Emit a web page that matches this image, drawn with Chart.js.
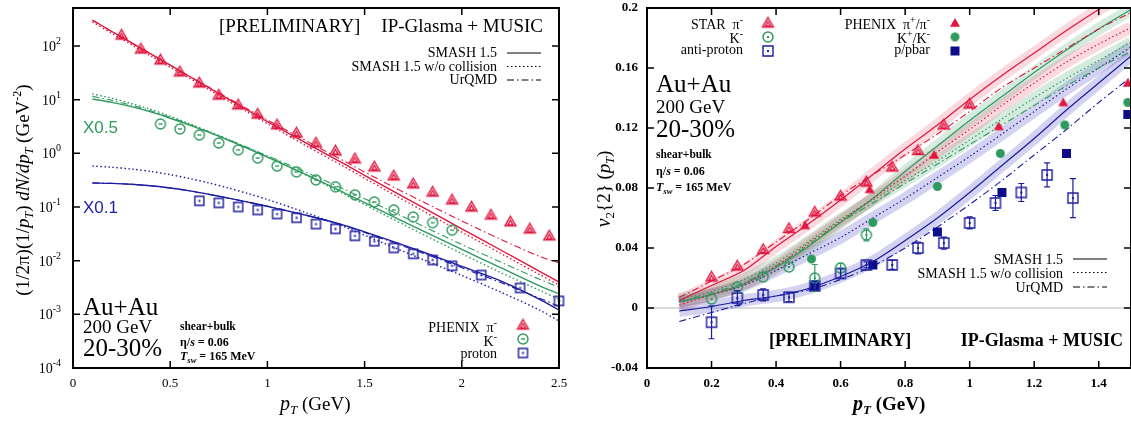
<!DOCTYPE html>
<html>
<head>
<meta charset="utf-8">
<title>Au+Au 200 GeV spectra and v2</title>
<script src="https://cdn.jsdelivr.net/npm/chart.js@4.4.1/dist/chart.umd.min.js"></script>
<style>
  html, body { margin: 0; padding: 0; background: #fff; overflow: hidden; }
  #wrap { position: relative; width: 1131px; height: 421px; overflow: hidden; }
  canvas { position: absolute; top: 0; }
  #spectra { left: 0; }
  #flow { left: 575px; }
</style>
</head>
<body>
<div id="wrap">
  <canvas id="spectra" width="575" height="421"></canvas>
  <canvas id="flow" width="562" height="421"></canvas>
</div>
<script>
// ---------- left panel: pT spectra ----------
const specPt = [0.1, 0.2, 0.3, 0.4, 0.5, 0.6, 0.7, 0.8, 0.9, 1.0, 1.2, 1.4, 1.6, 1.8, 2.0, 2.2, 2.4, 2.5];
const pionSmash = [305, 186, 115, 71, 44, 27, 16.6, 10.2, 6.3, 3.9, 1.55, 0.62, 0.245, 0.098, 0.039, 0.0158, 0.0063, 0.0040];
const pionNoColl = [280, 172, 106, 65, 40, 25, 15.3, 9.4, 5.8, 3.55, 1.38, 0.55, 0.215, 0.085, 0.034, 0.0137, 0.0055, 0.0035];
const pionUrqmd = [300, 185, 114, 71, 44, 27, 17, 10.6, 6.6, 4.2, 1.7, 0.70, 0.29, 0.125, 0.055, 0.025, 0.012, 0.0091];
const kaonSmash = [10.3, 8.9, 7.4, 5.9, 4.5, 3.35, 2.45, 1.75, 1.23, 0.85, 0.40, 0.18, 0.080, 0.036, 0.0162, 0.0074, 0.0034, 0.0024];
const kaonNoColl = [12.8, 10.6, 8.5, 6.6, 4.9, 3.55, 2.55, 1.8, 1.26, 0.86, 0.39, 0.17, 0.072, 0.031, 0.0135, 0.006, 0.0028, 0.0019];
const kaonUrqmd = [11.5, 9.7, 7.9, 6.2, 4.7, 3.45, 2.5, 1.8, 1.28, 0.9, 0.44, 0.21, 0.097, 0.044, 0.020, 0.0094, 0.0045, 0.0032];
const protonSmash = [0.28, 0.275, 0.265, 0.248, 0.226, 0.2, 0.172, 0.146, 0.123, 0.103, 0.07, 0.045, 0.026, 0.0145, 0.0078, 0.0042, 0.0019, 0.0012];
const protonNoColl = [0.58, 0.55, 0.51, 0.46, 0.40, 0.34, 0.28, 0.225, 0.178, 0.138, 0.078, 0.042, 0.021, 0.0105, 0.0053, 0.0026, 0.0012, 0.00075];
const protonUrqmd = [0.28, 0.275, 0.265, 0.248, 0.226, 0.2, 0.172, 0.146, 0.123, 0.103, 0.07, 0.044, 0.025, 0.0138, 0.0074, 0.0039, 0.0020, 0.0014];

const phxPionPt = [0.25, 0.35, 0.45, 0.55, 0.65, 0.75, 0.85, 0.95, 1.05, 1.15, 1.25, 1.35, 1.45, 1.55, 1.65, 1.75, 1.85, 1.95, 2.05, 2.15, 2.25, 2.35, 2.45];
const phxPion = [160, 88, 55, 33, 20.5, 12.2, 8.0, 5.4, 3.4, 2.4, 1.56, 1.11, 0.79, 0.56, 0.38, 0.27, 0.19, 0.136, 0.100, 0.071, 0.053, 0.039, 0.029];
const phxKaonPt = [0.45, 0.55, 0.65, 0.75, 0.85, 0.95, 1.05, 1.15, 1.25, 1.35, 1.45, 1.55, 1.65, 1.75, 1.85, 1.95];
const phxKaon = [3.52, 2.85, 2.2, 1.56, 1.16, 0.82, 0.58, 0.45, 0.32, 0.237, 0.168, 0.124, 0.088, 0.065, 0.051, 0.037];
const phxProtonPt = [0.65, 0.75, 0.85, 0.95, 1.05, 1.15, 1.25, 1.35, 1.45, 1.55, 1.65, 1.75, 1.85, 1.95, 2.1, 2.3, 2.5];
const phxProton = [0.130, 0.119, 0.100, 0.088, 0.074, 0.063, 0.048, 0.039, 0.029, 0.023, 0.0173, 0.0134, 0.0103, 0.0080, 0.0054, 0.0031, 0.00178];

const specXTicks = [0, 0.5, 1, 1.5, 2, 2.5];
const specDecades = [-4, -3, -2, -1, 0, 1, 2];

// ---------- right panel: v2{2} ----------
const flowPt = [0.1, 0.2, 0.3, 0.4, 0.5, 0.6, 0.7, 0.8, 0.9, 1.0, 1.1, 1.2, 1.3, 1.4, 1.5];
const v2PionSmash = [0.005, 0.015, 0.025, 0.041, 0.056, 0.072, 0.089, 0.106, 0.122, 0.139, 0.155, 0.170, 0.185, 0.199, 0.212];
const v2PionNoColl = [0.002, 0.009, 0.016, 0.028, 0.043, 0.058, 0.073, 0.088, 0.104, 0.119, 0.135, 0.150, 0.164, 0.176, 0.187];
const v2PionUrqmd = [0.007, 0.018, 0.029, 0.044, 0.059, 0.075, 0.089, 0.102, 0.116, 0.131, 0.147, 0.160, 0.173, 0.186, 0.197];
const v2KaonSmash = [0.004, 0.009, 0.016, 0.027, 0.041, 0.057, 0.073, 0.091, 0.108, 0.125, 0.141, 0.157, 0.172, 0.186, 0.199];
const v2KaonNoColl = [0.006, 0.011, 0.019, 0.030, 0.044, 0.059, 0.072, 0.085, 0.098, 0.112, 0.126, 0.140, 0.153, 0.165, 0.177];
const v2KaonUrqmd = [0.005, 0.010, 0.017, 0.028, 0.042, 0.057, 0.070, 0.083, 0.096, 0.109, 0.122, 0.135, 0.148, 0.160, 0.171];
const v2ProtonSmash = [-0.002, 0.001, 0.005, 0.008, 0.013, 0.021, 0.031, 0.045, 0.060, 0.077, 0.095, 0.113, 0.132, 0.150, 0.168];
const v2ProtonNoColl = [0.004, 0.009, 0.015, 0.025, 0.036, 0.047, 0.060, 0.073, 0.087, 0.101, 0.116, 0.131, 0.146, 0.160, 0.174];
const v2ProtonUrqmd = [-0.009, -0.003, 0.003, 0.008, 0.012, 0.019, 0.028, 0.040, 0.054, 0.069, 0.085, 0.102, 0.119, 0.137, 0.154];

const starPionPt = [0.2, 0.28, 0.36, 0.44, 0.52, 0.6, 0.68, 0.76, 0.84, 0.92, 1.0];
const starPion = [0.0207, 0.028, 0.039, 0.053, 0.064, 0.0747, 0.084, 0.094, 0.105, 0.122, 0.136];
const starKaonPt = [0.2, 0.28, 0.36, 0.44, 0.52, 0.6, 0.68];
const starKaon = [0.006, 0.014, 0.0207, 0.0273, 0.020, 0.0267, 0.0487];
const starKaonErr = [0, 0, 0, 0, 0.009, 0.003, 0.004];
const starProtonPt = [0.2, 0.28, 0.36, 0.44, 0.52, 0.6, 0.68, 0.76, 0.84, 0.92, 1.0, 1.08, 1.16, 1.24, 1.32];
const starProton = [-0.0095, 0.0066, 0.0087, 0.0072, 0.0147, 0.023, 0.0287, 0.0287, 0.040, 0.0433, 0.0567, 0.070, 0.077, 0.0887, 0.0733];
const starProtonErr = [0.011, 0.005, 0.004, 0.003, 0.003, 0.003, 0.002, 0.003, 0.004, 0.004, 0.004, 0.005, 0.006, 0.008, 0.013];
const phenixPionPt = [0.49, 0.69, 0.89, 1.09, 1.29, 1.49];
const phenixPion = [0.055, 0.079, 0.102, 0.121, 0.137, 0.150];
const phenixKaonPt = [0.51, 0.70, 0.90, 1.095, 1.295, 1.49];
const phenixKaon = [0.0327, 0.057, 0.081, 0.103, 0.122, 0.137];
const phenixProtonPt = [0.52, 0.70, 0.90, 1.10, 1.30, 1.49];
const phenixProton = [0.015, 0.0287, 0.0507, 0.077, 0.103, 0.129];

const flowXTicks = [0, 0.2, 0.4, 0.6, 0.8, 1.0, 1.2, 1.4];
const flowYTicks = [-0.04, 0, 0.04, 0.08, 0.12, 0.16, 0.2];

// ---------- styles ----------
const RED = '#e0173f', GREEN = '#2e9a5e', BLUE = '#1c1ca0', NAVY = '#0d0d8c';
const PINK_BAND = 'rgba(232, 80, 110, 0.22)', GREEN_BAND = 'rgba(70, 165, 110, 0.22)', BLUE_BAND = 'rgba(80, 80, 200, 0.25)';
const SERIF = '"Liberation Serif", "DejaVu Serif", serif';
const SANS = '"Liberation Sans", "DejaVu Sans", sans-serif';
const DOT = [1.5, 2.5];
const DASHDOT = [7, 3, 1.5, 3];

const font = (size, style) => `${style || ''} ${size}px ${SERIF}`;

function rich(ctx, x, y, parts, align) {
  let w = 0;
  parts.forEach(p => { ctx.font = p.f; w += ctx.measureText(p.t).width; });
  let cx = align === 'right' ? x - w : align === 'center' ? x - w / 2 : x;
  parts.forEach(p => {
    ctx.font = p.f;
    ctx.fillText(p.t, cx, y + (p.dy || 0));
    cx += ctx.measureText(p.t).width;
  });
}

function marker(shape, color, size, filled, inner) {
  const s = size + 6;
  const c = document.createElement('canvas');
  c.width = s; c.height = s;
  const g = c.getContext('2d');
  const m = s / 2, r = size / 2;
  g.strokeStyle = color; g.fillStyle = color; g.lineWidth = 1.4;
  g.beginPath();
  if (shape === 'tri') { g.moveTo(m, m - r); g.lineTo(m + r, m + r * 0.75); g.lineTo(m - r, m + r * 0.75); g.closePath(); }
  else if (shape === 'circle') g.arc(m, m, r, 0, Math.PI * 2);
  else g.rect(m - r, m - r, size, size);
  if (filled) g.fill(); else g.stroke();
  if (inner === 'tri') {
    const q = r * 0.45;
    g.beginPath(); g.moveTo(m, m + 1 - q); g.lineTo(m + q, m + 1 + q * 0.75); g.lineTo(m - q, m + 1 + q * 0.75); g.closePath(); g.stroke();
  } else if (inner === 'dot') {
    g.fillRect(m - 1, m - 1, 2, 2);
  } else if (inner === 'dash') {
    g.fillRect(m - 2, m - 0.7, 4, 1.4);
  }
  return c;
}

const mPionL = marker('tri', RED, 11, false, 'tri');
const mKaonL = marker('circle', GREEN, 10, false, 'dash');
const mProtonL = marker('rect', BLUE, 9, false, 'dot');
const mStarPion = marker('tri', RED, 11, false, 'tri');
const mStarKaon = marker('circle', GREEN, 10, false, 'dot');
const mStarProton = marker('rect', BLUE, 10, false, 'dot');
const mPhxPion = marker('tri', RED, 10, true);
const mPhxKaon = marker('circle', GREEN, 9, true);
const mPhxProton = marker('rect', NAVY, 9, true);

function curve(xs, ys, color, dash, width) {
  return {
    data: xs.map((x, i) => ({ x, y: ys[i] })),
    borderColor: color, borderWidth: width || 1.4, borderDash: dash || [],
    pointRadius: 0, fill: false, tension: 0.3, clip: 0, order: 5
  };
}
function band(xs, ys, color) {
  return {
    data: xs.map((x, i) => ({ x, y: ys[i] })),
    borderColor: color, borderWidth: 12, borderCapStyle: 'butt',
    pointRadius: 0, fill: false, tension: 0.3, clip: 0, order: 10
  };
}
function points(xs, ys, img, errs, errColor) {
  return {
    data: xs.map((x, i) => ({ x, y: ys[i] })),
    showLine: false, pointStyle: img, pointRadius: 5, clip: false, order: 0,
    errors: errs, errColor: errColor
  };
}

const errorBars = {
  id: 'errorBars',
  afterDatasetsDraw(chart) {
    const { ctx, scales: { x, y } } = chart;
    chart.data.datasets.forEach(ds => {
      if (!ds.errors) return;
      ctx.save();
      ctx.strokeStyle = ds.errColor; ctx.lineWidth = 1.2;
      ds.data.forEach((p, i) => {
        const e = ds.errors[i];
        if (!e) return;
        const px = x.getPixelForValue(p.x);
        const y1 = y.getPixelForValue(p.y - e), y2 = y.getPixelForValue(p.y + e);
        ctx.beginPath();
        ctx.moveTo(px, y1); ctx.lineTo(px, y2);
        ctx.moveTo(px - 3, y1); ctx.lineTo(px + 3, y1);
        ctx.moveTo(px - 3, y2); ctx.lineTo(px + 3, y2);
        ctx.stroke();
      });
      ctx.restore();
    });
  }
};

function frame(chart, xt, yt) {
  const { ctx, chartArea: a, scales: { x, y } } = chart;
  ctx.save();
  ctx.strokeStyle = '#000'; ctx.lineWidth = 1.5;
  ctx.beginPath();
  xt.forEach(v => {
    const p = x.getPixelForValue(v);
    ctx.moveTo(p, a.bottom); ctx.lineTo(p, a.bottom - 7);
    ctx.moveTo(p, a.top); ctx.lineTo(p, a.top + 7);
  });
  yt.forEach(v => {
    const p = y.getPixelForValue(v);
    ctx.moveTo(a.left, p); ctx.lineTo(a.left + 7, p);
    ctx.moveTo(a.right, p); ctx.lineTo(a.right - 7, p);
  });
  ctx.stroke();
  ctx.lineWidth = 2;
  ctx.strokeRect(a.left, a.top, a.right - a.left, a.bottom - a.top);
  ctx.restore();
}

function legendLine(ctx, x1, x2, y, dash) {
  ctx.save();
  ctx.strokeStyle = '#000'; ctx.lineWidth = 1.2; ctx.setLineDash(dash);
  ctx.beginPath(); ctx.moveTo(x1, y); ctx.lineTo(x2, y); ctx.stroke();
  ctx.restore();
}
function legendMarker(ctx, img, x, y) {
  ctx.drawImage(img, x - img.width / 2, y - img.height / 2);
}

Chart.defaults.font.family = SERIF;
Chart.defaults.color = '#000';

// ---------- left chart ----------
const spectraDeco = {
  id: 'spectraDeco',
  afterDraw(chart) {
    const { ctx, scales: { y } } = chart;
    frame(chart, specXTicks, specDecades.map(e => Math.pow(10, e)));
    ctx.save();
    ctx.fillStyle = '#000';
    ctx.textBaseline = 'alphabetic';
    specDecades.forEach(e => {
      const py = y.getPixelForValue(Math.pow(10, e));
      rich(ctx, 61, py + 5, [{ t: '10', f: font(14) }, { t: String(e), f: font(10), dy: -7 }], 'right');
    });
    rich(ctx, 219, 32, [{ t: '[PRELIMINARY]', f: font(19) }]);
    rich(ctx, 543, 32, [{ t: 'IP-Glasma + MUSIC', f: font(19) }], 'right');
    rich(ctx, 497, 57, [{ t: 'SMASH 1.5', f: font(14) }], 'right');
    rich(ctx, 497, 70.5, [{ t: 'SMASH 1.5 w/o collision', f: font(14) }], 'right');
    rich(ctx, 497, 84, [{ t: 'UrQMD', f: font(14) }], 'right');
    legendLine(ctx, 507, 541, 53, []);
    legendLine(ctx, 507, 541, 66.5, DOT);
    legendLine(ctx, 507, 541, 80, DASHDOT);

    ctx.fillStyle = GREEN;
    ctx.font = `17px ${SANS}`; ctx.fillText('X0.5', 83, 133);
    ctx.fillStyle = BLUE;
    ctx.fillText('X0.1', 83, 213);

    ctx.fillStyle = '#000';
    rich(ctx, 83, 315, [{ t: 'Au+Au', f: font(25) }]);
    rich(ctx, 83, 333, [{ t: '200 GeV', f: font(19) }]);
    rich(ctx, 83, 356, [{ t: '20-30%', f: font(25) }]);
    rich(ctx, 180, 330, [{ t: 'shear+bulk', f: font(11.5, 'bold') }]);
    rich(ctx, 180, 346, [{ t: 'η/', f: font(12, 'bold') }, { t: 's', f: font(12, 'italic bold') }, { t: ' = 0.06', f: font(12, 'bold') }]);
    rich(ctx, 180, 360, [{ t: 'T', f: font(12, 'italic bold') }, { t: 'sw', f: font(8.5, 'italic bold'), dy: 3 }, { t: ' = 165 MeV', f: font(12, 'bold') }]);

    rich(ctx, 497, 332, [{ t: 'PHENIX  π', f: font(14) }, { t: '-', f: font(10), dy: -6 }], 'right');
    rich(ctx, 497, 346, [{ t: 'K', f: font(14) }, { t: '-', f: font(10), dy: -6 }], 'right');
    rich(ctx, 497, 358, [{ t: 'proton', f: font(14) }], 'right');
    legendMarker(ctx, mPionL, 523, 325);
    legendMarker(ctx, mKaonL, 523, 339);
    legendMarker(ctx, mProtonL, 523, 353);

    rich(ctx, 280, 410, [{ t: 'p', f: font(20, 'italic') }, { t: 'T', f: font(13, 'italic'), dy: 4 }, { t: ' (GeV)', f: font(19) }]);

    ctx.translate(29, 190);
    ctx.rotate(-Math.PI / 2);
    rich(ctx, 0, 0, [
      { t: '(1/2π)(1/', f: font(19) }, { t: 'p', f: font(19, 'italic') }, { t: 'T', f: font(12, 'italic'), dy: 4 },
      { t: ') ', f: font(19) }, { t: 'dN/dp', f: font(19, 'italic') }, { t: 'T', f: font(12, 'italic'), dy: 4 },
      { t: ' (GeV', f: font(19) }, { t: '-2', f: font(12), dy: -8 }, { t: ')', f: font(19) }
    ], 'center');
    ctx.restore();
  }
};

new Chart(document.getElementById('spectra'), {
  type: 'line',
  data: {
    datasets: [
      points(phxPionPt, phxPion, mPionL),
      points(phxKaonPt, phxKaon, mKaonL),
      points(phxProtonPt, phxProton, mProtonL),
      curve(specPt, pionSmash, RED),
      curve(specPt, pionNoColl, RED, DOT),
      curve(specPt, pionUrqmd, RED, DASHDOT, 1.1),
      curve(specPt, kaonSmash, GREEN),
      curve(specPt, kaonNoColl, GREEN, DOT),
      curve(specPt, kaonUrqmd, GREEN, DASHDOT, 1.1),
      curve(specPt, protonSmash, BLUE),
      curve(specPt, protonNoColl, BLUE, DOT),
      curve(specPt, protonUrqmd, BLUE, DASHDOT, 1.1)
    ]
  },
  options: {
    responsive: false, animation: false, devicePixelRatio: 1, events: [],
    layout: { padding: { left: 0, right: 16, top: 8, bottom: 0 } },
    plugins: { legend: { display: false }, tooltip: { enabled: false } },
    scales: {
      x: {
        type: 'linear', min: 0, max: 2.5,
        grid: { display: false, drawTicks: false }, border: { display: false },
        ticks: { stepSize: 0.5, padding: 8, font: { size: 13 }, callback: v => String(v) },
        afterFit: s => { s.height = 53; s.paddingLeft = 0; s.paddingRight = 0; }
      },
      y: {
        type: 'logarithmic', min: 1e-4, max: 510,
        grid: { display: false, drawTicks: false }, border: { display: false },
        ticks: { display: false },
        afterFit: s => { s.width = 73; s.paddingTop = 0; s.paddingBottom = 0; }
      }
    }
  },
  plugins: [spectraDeco]
});

// ---------- right chart ----------
const X0 = 575;
const flowDeco = {
  id: 'flowDeco',
  beforeDatasetsDraw(chart) {
    const { ctx, chartArea: a, scales: { y } } = chart;
    const p = y.getPixelForValue(0);
    ctx.save();
    ctx.strokeStyle = '#b4b4b4'; ctx.lineWidth = 1;
    ctx.beginPath(); ctx.moveTo(a.left, p); ctx.lineTo(a.right, p); ctx.stroke();
    ctx.restore();
  },
  afterDraw(chart) {
    const { ctx } = chart;
    frame(chart, flowXTicks, flowYTicks);
    ctx.save();
    ctx.fillStyle = '#000';
    rich(ctx, 743 - X0, 29, [{ t: 'STAR  π', f: font(14) }, { t: '-', f: font(10), dy: -6 }], 'right');
    rich(ctx, 743 - X0, 43, [{ t: 'K', f: font(14) }, { t: '-', f: font(10), dy: -6 }], 'right');
    rich(ctx, 743 - X0, 54, [{ t: 'anti-proton', f: font(14) }], 'right');
    legendMarker(ctx, mStarPion, 768 - X0, 23);
    legendMarker(ctx, mStarKaon, 768 - X0, 37);
    legendMarker(ctx, mStarProton, 768 - X0, 51);
    rich(ctx, 930 - X0, 29, [{ t: 'PHENIX  π', f: font(14) }, { t: '+', f: font(10), dy: -6 }, { t: '/π', f: font(14) }, { t: '-', f: font(10), dy: -6 }], 'right');
    rich(ctx, 930 - X0, 43, [{ t: 'K', f: font(14) }, { t: '+', f: font(10), dy: -6 }, { t: '/K', f: font(14) }, { t: '-', f: font(10), dy: -6 }], 'right');
    rich(ctx, 930 - X0, 54, [{ t: 'p/pbar', f: font(14) }], 'right');
    legendMarker(ctx, mPhxPion, 955 - X0, 23);
    legendMarker(ctx, mPhxKaon, 955 - X0, 37);
    legendMarker(ctx, mPhxProton, 955 - X0, 51);

    rich(ctx, 656 - X0, 92, [{ t: 'Au+Au', f: font(25) }]);
    rich(ctx, 656 - X0, 113, [{ t: '200 GeV', f: font(19) }]);
    rich(ctx, 656 - X0, 137, [{ t: '20-30%', f: font(25) }]);
    rich(ctx, 656 - X0, 158, [{ t: 'shear+bulk', f: font(11.5, 'bold') }]);
    rich(ctx, 656 - X0, 175, [{ t: 'η/', f: font(12, 'bold') }, { t: 's', f: font(12, 'italic bold') }, { t: ' = 0.06', f: font(12, 'bold') }]);
    rich(ctx, 656 - X0, 191, [{ t: 'T', f: font(12, 'italic bold') }, { t: 'sw', f: font(8.5, 'italic bold'), dy: 3 }, { t: ' = 165 MeV', f: font(12, 'bold') }]);

    rich(ctx, 1063 - X0, 264, [{ t: 'SMASH 1.5', f: font(14) }], 'right');
    rich(ctx, 1063 - X0, 277.5, [{ t: 'SMASH 1.5 w/o collision', f: font(14) }], 'right');
    rich(ctx, 1063 - X0, 292, [{ t: 'UrQMD', f: font(14) }], 'right');
    legendLine(ctx, 1073 - X0, 1107 - X0, 259, []);
    legendLine(ctx, 1073 - X0, 1107 - X0, 272.5, DOT);
    legendLine(ctx, 1073 - X0, 1107 - X0, 287, DASHDOT);

    rich(ctx, 769 - X0, 346, [{ t: '[PRELIMINARY]', f: font(18, 'bold') }]);
    rich(ctx, 1123 - X0, 346, [{ t: 'IP-Glasma + MUSIC', f: font(18, 'bold') }], 'right');

    rich(ctx, 853 - X0, 410, [{ t: 'p', f: font(20, 'italic bold') }, { t: 'T', f: font(13, 'italic bold'), dy: 4 }, { t: ' (GeV)', f: font(19, 'bold') }]);

    ctx.translate(604 - X0, 189);
    ctx.rotate(-Math.PI / 2);
    rich(ctx, 0, 6, [
      { t: 'v', f: font(20, 'italic') }, { t: '2', f: font(13), dy: 4 }, { t: '{2} (', f: font(19) },
      { t: 'p', f: font(19, 'italic') }, { t: 'T', f: font(12, 'italic'), dy: 4 }, { t: ')', f: font(19) }
    ], 'center');
    ctx.restore();
  }
};

new Chart(document.getElementById('flow'), {
  type: 'line',
  data: {
    datasets: [
      points(starPionPt, starPion, mStarPion),
      points(starKaonPt, starKaon, mStarKaon, starKaonErr, GREEN),
      points(starProtonPt, starProton, mStarProton, starProtonErr, BLUE),
      points(phenixPionPt, phenixPion, mPhxPion),
      points(phenixKaonPt, phenixKaon, mPhxKaon),
      points(phenixProtonPt, phenixProton, mPhxProton),
      curve(flowPt, v2PionSmash, RED, [], 1.2),
      curve(flowPt, v2PionNoColl, RED, DOT, 1.2),
      curve(flowPt, v2PionUrqmd, RED, DASHDOT, 1.1),
      curve(flowPt, v2KaonSmash, GREEN, [], 1.2),
      curve(flowPt, v2KaonNoColl, GREEN, DOT, 1.2),
      curve(flowPt, v2KaonUrqmd, GREEN, DASHDOT, 1.1),
      curve(flowPt, v2ProtonSmash, BLUE, [], 1.2),
      curve(flowPt, v2ProtonNoColl, BLUE, DOT, 1.2),
      curve(flowPt, v2ProtonUrqmd, BLUE, DASHDOT, 1.1),
      band(flowPt, v2PionSmash, PINK_BAND),
      band(flowPt, v2PionNoColl, PINK_BAND),
      band(flowPt, v2KaonSmash, GREEN_BAND),
      band(flowPt, v2KaonNoColl, GREEN_BAND),
      band(flowPt, v2ProtonNoColl, BLUE_BAND),
      band(flowPt, v2ProtonSmash, BLUE_BAND)
    ]
  },
  options: {
    responsive: false, animation: false, devicePixelRatio: 1, events: [],
    layout: { padding: { left: 0, right: 0, top: 8, bottom: 0 } },
    plugins: { legend: { display: false }, tooltip: { enabled: false } },
    scales: {
      x: {
        type: 'linear', min: 0, max: 1.5,
        grid: { display: false, drawTicks: false }, border: { display: false },
        ticks: { stepSize: 0.2, includeBounds: false, padding: 8, font: { size: 13, weight: 'bold' },
                 callback: v => String(parseFloat(v.toFixed(2))) },
        afterFit: s => { s.height = 53; s.paddingLeft = 0; s.paddingRight = 0; }
      },
      y: {
        type: 'linear', min: -0.04, max: 0.2,
        grid: { display: false, drawTicks: false }, border: { display: false },
        ticks: { stepSize: 0.04, padding: 9, font: { size: 13, weight: 'bold' },
                 callback: v => String(parseFloat(v.toFixed(2))) },
        afterFit: s => { s.width = 72; s.paddingTop = 0; s.paddingBottom = 0; }
      }
    }
  },
  plugins: [flowDeco, errorBars]
});
</script>
</body>
</html>
